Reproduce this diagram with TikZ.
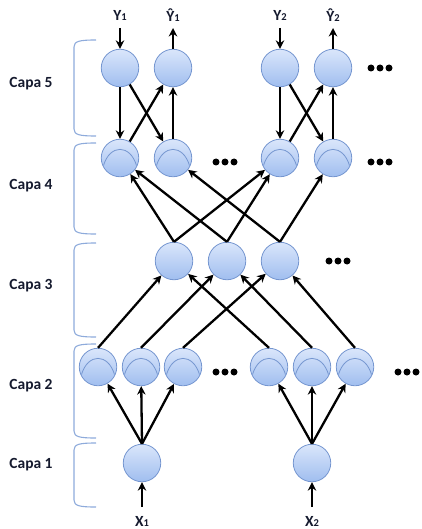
\documentclass[tikz,border=0pt]{standalone}
\usepackage{fontspec}
\setmainfont{Carlito}
\usetikzlibrary{arrows.meta,calc}

\definecolor{nodeTop}{HTML}{DAE6FB}
\definecolor{nodeBot}{HTML}{A0BEEF}
\definecolor{nodeEdge}{HTML}{7596D0}
\definecolor{braceCol}{HTML}{8EABDB}
\definecolor{labelCol}{HTML}{151A2E}

\tikzset{
  neuron/.style={circle, minimum size=37.5pt, inner sep=0pt, draw=nodeEdge,
    line width=0.8pt, top color=nodeTop, bottom color=nodeBot},
  actneuron/.style={neuron, path picture={
    \draw[nodeEdge, line width=0.8pt]
      ($(path picture bounding box.center)+(-16.5pt,-7.5pt)$)
      .. controls ($(path picture bounding box.center)+(-10pt,14pt)$)
      and ($(path picture bounding box.center)+(10pt,14pt)$)
      .. ($(path picture bounding box.center)+(16.5pt,-7.5pt)$);}},
  link/.style={line width=2.3pt, -{Stealth[length=8.5pt,width=8.5pt]}},
  layerlabel/.style={font=\bfseries\fontsize{15.5}{18}\selectfont, text=labelCol},
  iolabel/.style={font=\bfseries\fontsize{15.5}{17}\selectfont, text=labelCol,
    inner sep=0pt},
  bracket/.style={braceCol, line width=1.1pt},
  dotmark/.style={circle, fill=black, inner sep=0pt, minimum size=7pt},
}

% three dots centred at (#2,#3), named #1-1 .. #1-3
\newcommand{\dotrow}[3]{%
  \node[dotmark] (#1-1) at (#2-9,#3) {};
  \node[dotmark] (#1-2) at (#2,#3) {};
  \node[dotmark] (#1-3) at (#2+9,#3) {};}

% bracket on the left of a layer, from y=#1 down to y=#2
\newcommand{\layerbracket}[2]{%
  \draw[bracket] (96,#1) .. controls (80,#1) and (74,#1+1) .. (74,#1+7)
    -- (74,#2-7) .. controls (74,#2-1) and (80,#2) .. (96,#2);}

\newcommand{\sub}[1]{{\fontsize{10.5}{10}\selectfont #1}}

\begin{document}
\begin{tikzpicture}[x=1pt,y=-1pt]
\useasboundingbox (0,0) rectangle (422,529);

% ---- layer 5 (outputs)
\node[neuron] (o1) at (120,68) {};
\node[neuron] (o2) at (173,68) {};
\node[neuron] (o3) at (280,68) {};
\node[neuron] (o4) at (333,68) {};
\dotrow{d5}{380}{68}

% ---- layer 4
\node[actneuron] (h4a) at (120,158) {};
\node[actneuron] (h4b) at (173,158) {};
\node[actneuron] (h4c) at (280,158) {};
\node[actneuron] (h4d) at (333,158) {};
\dotrow{d4a}{225}{162}
\dotrow{d4b}{380}{162}

% ---- layer 3
\node[neuron] (h3a) at (174,261) {};
\node[neuron] (h3b) at (227,261) {};
\node[neuron] (h3c) at (280,261) {};
\dotrow{d3}{338}{261}

% ---- layer 2
\node[actneuron] (h2a) at (98,367) {};
\node[actneuron] (h2b) at (141,367) {};
\node[actneuron] (h2c) at (183,367) {};
\node[actneuron] (h2d) at (269,367) {};
\node[actneuron] (h2e) at (312,367) {};
\node[actneuron] (h2f) at (355,367) {};
\dotrow{d2a}{225}{372}
\dotrow{d2b}{407}{372}

% ---- layer 1 (inputs)
\node[neuron] (in1) at (142,463) {};
\node[neuron] (in2) at (312,463) {};

% ---- input / output labels
\node[iolabel] (ly1) at (120,15) {Y\sub{1}};
\node[iolabel] (lh1) at (173,15) {Ŷ\sub{1}};
\node[iolabel] (ly2) at (280,15) {Y\sub{2}};
\node[iolabel] (lh2) at (333,15) {Ŷ\sub{2}};
\node[iolabel] (lx1) at (142,521) {X\sub{1}};
\node[iolabel] (lx2) at (312,521) {X\sub{2}};

\coordinate (y1end) at (120,28);
\coordinate (h1end) at (173,28);
\coordinate (y2end) at (280,28);
\coordinate (h2end) at (333,28);
\coordinate (x1end) at (142,507);
\coordinate (x2end) at (312,507);

\draw[link] (y1end) -- (o1);
\draw[link] (o2) -- (h1end);
\draw[link] (y2end) -- (o3);
\draw[link] (o4) -- (h2end);
\draw[link] (x1end) -- (in1);
\draw[link] (x2end) -- (in2);

% ---- layer 1 -> layer 2
\foreach \t in {h2a,h2b,h2c} \draw[link] (in1.north) -- (\t);
\foreach \t in {h2d,h2e,h2f} \draw[link] (in2.north) -- (\t);

% ---- layer 2 -> layer 3
\draw[link] (h2a.north) -- (h3a);
\draw[link] (h2b.north) -- (h3b);
\draw[link] (h2c.north) -- (h3c);
\draw[link] (h2d.north) -- (h3a);
\draw[link] (h2e.north) -- (h3b);
\draw[link] (h2f.north) -- (h3c);

% ---- layer 3 -> layer 4
\draw[link] (h3a.north) -- (h4a);
\draw[link] (h3a.north) -- (h4c);
\draw[link] (h3b.north) -- (h4a);
\draw[link] (h3b.north) -- (h4c);
\draw[link] (h3c.north) -- (h4b);
\draw[link] (h3c.north) -- (h4d);

% ---- layer 4 <-> layer 5
\draw[link] (o1) -- (h4a);
\draw[link] (o1) -- (h4b);
\draw[link] (h4a) -- (o2);
\draw[link] (h4b) -- (o2);
\draw[link] (o3) -- (h4c);
\draw[link] (o3) -- (h4d);
\draw[link] (h4c) -- (o4);
\draw[link] (h4d) -- (o4);

% ---- layer brackets and names
\layerbracket{40}{136}
\layerbracket{143}{234}
\layerbracket{243}{337}
\layerbracket{344}{438}
\layerbracket{443}{507}

\node[layerlabel] (c5) at (31,84) {Capa 5};
\node[layerlabel] (c4) at (31,186) {Capa 4};
\node[layerlabel] (c3) at (31,286) {Capa 3};
\node[layerlabel] (c2) at (31,386) {Capa 2};
\node[layerlabel] (c1) at (31,465) {Capa 1};
\end{tikzpicture}
\end{document}
